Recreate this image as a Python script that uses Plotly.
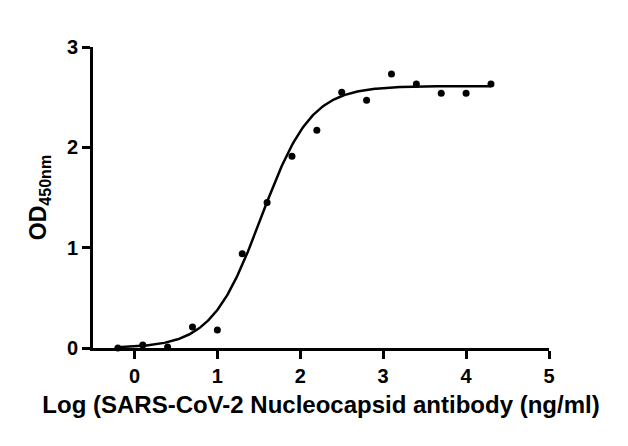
import numpy as np
import plotly.graph_objects as go

# measured points: log concentration vs OD450
log_conc = [-0.2, 0.1, 0.4, 0.7, 1.0, 1.3, 1.6, 1.9, 2.2, 2.5, 2.8, 3.1, 3.4, 3.7, 4.0, 4.3]
od450 = [0.00, 0.03, 0.01, 0.21, 0.18, 0.94, 1.45, 1.91, 2.17, 2.55, 2.47, 2.73, 2.63, 2.54, 2.54, 2.63]

# 4PL fit parameters
bottom = 0.0
top = 2.61
log_ec50 = 1.53
hill = 1.45

xfit = np.linspace(min(log_conc), max(log_conc), 300)
yfit = bottom + (top - bottom) / (1 + 10 ** (hill * (log_ec50 - xfit)))

font_b = "Liberation Sans, Arial, sans-serif"

fig = go.Figure()
fig.add_trace(go.Scatter(x=xfit, y=yfit, mode="lines",
                         line=dict(color="black", width=2.5),
                         hoverinfo="skip", showlegend=False, cliponaxis=False))
fig.add_trace(go.Scatter(x=log_conc, y=od450, mode="markers",
                         marker=dict(color="black", size=7),
                         showlegend=False, cliponaxis=False))

axis_common = dict(showline=True, linecolor="black", linewidth=3,
                   ticks="outside", ticklen=8, tickwidth=3, tickcolor="black",
                   showgrid=False, zeroline=False,
                   tickfont=dict(family=font_b, size=20, color="black", weight="bold"))

fig.update_xaxes(range=[-0.5, 5], tickvals=[0, 1, 2, 3, 4, 5],
                 title=dict(text="Log (SARS-CoV-2 Nucleocapsid antibody (ng/ml)",
                            font=dict(family=font_b, size=24, color="black", weight="bold"),
                            standoff=11),
                 **axis_common)
fig.update_yaxes(range=[0, 3], tickvals=[0, 1, 2, 3],
                 title=dict(text="OD<sub>450nm</sub>",
                            font=dict(family=font_b, size=23, color="black", weight="bold"),
                            standoff=14),
                 **axis_common)

# the page body shifts the figure 8px right and down, so shrink it by that much
fig.update_layout(width=620, height=438,
                  margin=dict(l=85, r=79, t=39, b=98),
                  paper_bgcolor="white", plot_bgcolor="white")

fig.write_html("out.html")
